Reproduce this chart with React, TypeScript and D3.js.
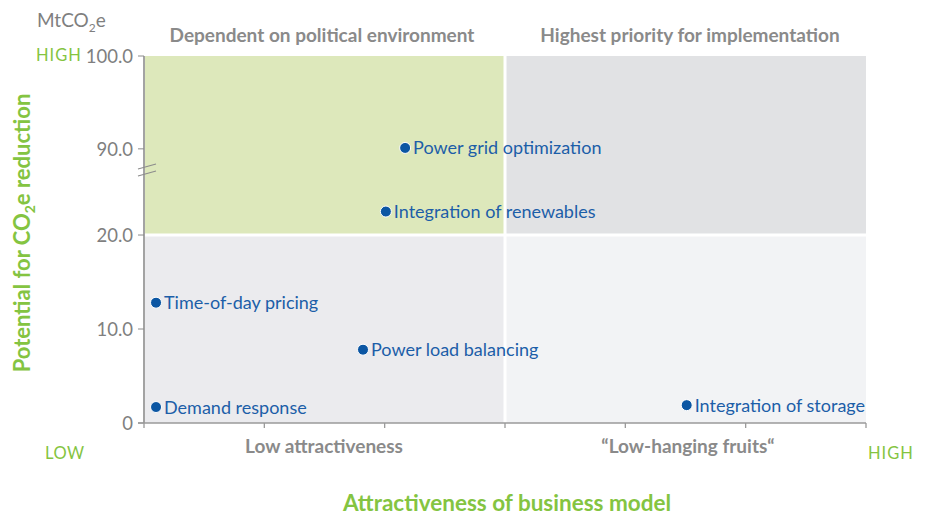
import React from "react";
import * as d3 from "d3";

const pointNames = [
  "Power grid optimization",
  "Integration of renewables",
  "Time-of-day pricing",
  "Power load balancing",
  "Demand response",
  "Integration of storage",
];
const attractiveness = [2.17, 2.01, 0.1, 1.82, 0.1, 4.51];
const co2Reduction = [90.1, 22.5, 12.8, 7.8, 1.7, 1.9];

const yTicks = [0, 10, 20, 90, 100];
const yTickLabels = ["0", "10.0", "20.0", "90.0", "100.0"];
const xTicks = [0, 1, 2, 3, 4, 5, 6];

const topQuadrantTitles = ["Dependent on political environment", "Highest priority for implementation"];
const bottomQuadrantTitles = ["Low attractiveness", "\u201CLow-hanging fruits\u201C"];

const FONT = "Lato, 'Open Sans', sans-serif";
const GREEN = "#84c441";
const GRAY_TXT = "#7f7f7f";
const BLUE_TXT = "#1c5ea8";
const DOT = "#0b56a3";

export default function App() {
  const W = 930;
  const H = 516;
  const x = d3.scaleLinear().domain([0, 6]).range([144, 866]);
  // broken axis: lower segment 0..26.6, upper segment 87.4..100
  const y = d3.scaleLinear().domain([0, 26.6, 87.4, 100]).range([423, 173, 173, 56]);

  const xMid = 3;
  const yMid = 20;
  const quads = [
    { x0: 0, x1: xMid, y0: yMid, y1: 100, fill: "#dde8bb" },
    { x0: xMid, x1: 6, y0: yMid, y1: 100, fill: "#e1e2e4" },
    { x0: 0, x1: xMid, y0: 0, y1: yMid, fill: "#ebebee" },
    { x0: xMid, x1: 6, y0: 0, y1: yMid, fill: "#f2f3f5" },
  ];

  const breakY = 172.5;

  return (
    <svg
      width={W}
      height={H}
      style={{ position: "absolute", left: 0, top: 0, background: "#fff" }}
      fontFamily={FONT}
    >
      {quads.map((q, i) => (
        <rect
          key={i}
          x={x(q.x0)}
          y={y(q.y1)}
          width={x(q.x1) - x(q.x0)}
          height={y(q.y0) - y(q.y1)}
          fill={q.fill}
        />
      ))}
      <line x1={x(xMid)} x2={x(xMid)} y1={y(100)} y2={y(0)} stroke="#fff" strokeWidth={3} />
      <line x1={x(0)} x2={x(6)} y1={y(yMid)} y2={y(yMid)} stroke="#fff" strokeWidth={3} />

      {/* y axis */}
      <line x1={x(0)} x2={x(0)} y1={y(100)} y2={y(0)} stroke="#a3a3a3" strokeWidth={2} />
      {yTicks.map((t, i) => (
        <g key={t}>
          <line x1={x(0) - 6} x2={x(0)} y1={y(t)} y2={y(t)} stroke="#8c8c8c" strokeWidth={1} />
          <text
            x={133}
            y={y(t)}
            dy="0.36em"
            textAnchor="end"
            fontSize={18.5}
            fill={GRAY_TXT}
          >
            {yTickLabels[i]}
          </text>
        </g>
      ))}
      {/* axis break marks */}
      <line x1={138} x2={156} y1={breakY - 3.5} y2={breakY - 8.5} stroke="#8c8c8c" strokeWidth={1.2} />
      <line x1={138} x2={156} y1={breakY + 3.5} y2={breakY - 1.5} stroke="#8c8c8c" strokeWidth={1.2} />

      {/* x axis */}
      <line x1={x(0) - 6} x2={x(6)} y1={y(0)} y2={y(0)} stroke="#9a9a9a" strokeWidth={1.3} />
      {xTicks.map((t) => (
        <line key={t} x1={x(t)} x2={x(t)} y1={y(0)} y2={y(0) + 5} stroke="#9a9a9a" strokeWidth={1.3} />
      ))}

      {/* points */}
      {pointNames.map((name, i) => (
        <g key={name}>
          <circle
            cx={x(attractiveness[i])}
            cy={y(co2Reduction[i])}
            r={5.5}
            fill={DOT}
            stroke="#fff"
            strokeWidth={1}
          />
          <text
            x={x(attractiveness[i]) + 8}
            y={y(co2Reduction[i])}
            dy="0.36em"
            fontSize={18}
            fill={BLUE_TXT}
          >
            {name}
          </text>
        </g>
      ))}

      {/* quadrant titles */}
      <text x={322} y={42} textAnchor="middle" fontSize={19} fontWeight="bold" fill="#8a8a8a">
        {topQuadrantTitles[0]}
      </text>
      <text x={690} y={42} textAnchor="middle" fontSize={19} fontWeight="bold" fill="#8a8a8a">
        {topQuadrantTitles[1]}
      </text>
      <text x={324} y={453} textAnchor="middle" fontSize={19} fontWeight="bold" fill="#8a8a8a">
        {bottomQuadrantTitles[0]}
      </text>
      <text x={688} y={453} textAnchor="middle" fontSize={19} fontWeight="bold" fill="#8a8a8a">
        {bottomQuadrantTitles[1]}
      </text>

      {/* unit */}
      <text x={37} y={27} fontSize={19} fill={GRAY_TXT}>
        MtCO<tspan dy={5} fontSize={12}>2</tspan>
        <tspan dy={-5}>e</tspan>
      </text>

      {/* HIGH / LOW markers */}
      <text x={36} y={61} fontSize={16.5} fill={GREEN} letterSpacing={1}>HIGH</text>
      <text x={45} y={459} fontSize={16.5} fill={GREEN} letterSpacing={0.5}>LOW</text>
      <text x={868} y={459} fontSize={16.5} fill={GREEN} letterSpacing={1}>HIGH</text>

      {/* axis titles */}
      <text x={507} y={511} textAnchor="middle" fontSize={22.5} fontWeight="bold" fill={GREEN}>
        Attractiveness of business model
      </text>
      <text
        transform="translate(30,233) rotate(-90)"
        textAnchor="middle"
        fontSize={22}
        fontWeight="bold"
        fill={GREEN}
      >
        Potential for CO<tspan dy={5} fontSize={14}>2</tspan>
        <tspan dy={-5}>e reduction</tspan>
      </text>
    </svg>
  );
}
